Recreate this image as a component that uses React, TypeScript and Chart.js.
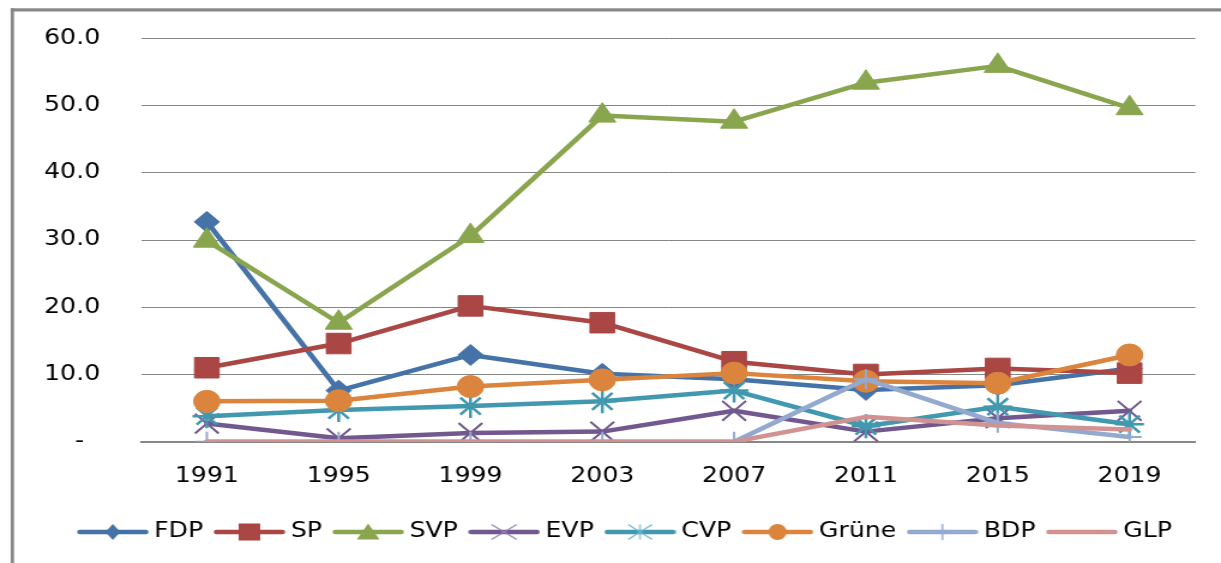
import React, { useEffect, useRef } from 'react';
import { Chart, registerables } from 'chart.js';

Chart.register(...registerables);

// ---- data ----
const years = ['1991', '1995', '1999', '2003', '2007', '2011', '2015', '2019'];
const fdp = [32.7, 7.6, 12.9, 10.1, 9.3, 7.7, 8.4, 10.9];
const sp = [11.0, 14.6, 20.2, 17.7, 11.9, 10.0, 10.9, 10.2];
const svp = [29.9, 17.7, 30.6, 48.5, 47.6, 53.4, 55.9, 49.6];
const evp = [2.7, 0.5, 1.3, 1.5, 4.6, 1.5, 3.5, 4.6];
const cvp = [3.8, 4.7, 5.3, 6.0, 7.6, 2.3, 5.2, 2.6];
const gruene = [6.0, 6.1, 8.2, 9.2, 10.2, 9.0, 8.7, 12.9];
const bdp = [0, 0, 0, 0, 0, 9.3, 2.8, 0.7];
const glp = [0, 0, 0, 0, 0, 3.7, 2.4, 1.8];
const seriesNames = ['FDP', 'SP', 'SVP', 'EVP', 'CVP', 'Grüne', 'BDP', 'GLP'];
const seriesData = [fdp, sp, svp, evp, cvp, gruene, bdp, glp];
const yMin = 0;
const yMax = 60;
const yStep = 10;

// ---- styling ----
const colors = ['#4572A7', '#AA4643', '#89A54E', '#71588F', '#4198AF', '#DB843D', '#93A9CF', '#D19392'];
const pointStyles = ['rectRot', 'rect', 'triangle', 'crossRot', 'star', 'circle', 'cross', 'circle'];
const pointRadii = [10.5, 14.5, 13, 14, 12, 11, 10, 0];
const pointBorders = [1, 1, 1, 2, 2.5, 1, 2, 0];
const legendMarks = ['diamond', 'square', 'triangle', 'x', 'star', 'circle', 'plus', 'none'];

const W = 1018; // internal canvas width (image is horizontally stretched)
const H = 563;
const FONT = 'DejaVu Sans';
const LEGEND_SHIFT = 6.7;

function makeIcon(i: number): HTMLCanvasElement {
  const c = document.createElement('canvas');
  c.width = 60;
  c.height = 20;
  const g = c.getContext('2d') as CanvasRenderingContext2D;
  const col = colors[i];
  g.strokeStyle = col;
  g.lineWidth = 4.5;
  g.lineCap = 'round';
  g.beginPath();
  g.moveTo(2.5, 10);
  g.lineTo(57.5, 10);
  g.stroke();
  g.fillStyle = col;
  const cx = 30;
  const cy = 10;
  const m = legendMarks[i];
  g.beginPath();
  if (m === 'diamond') {
    g.moveTo(cx, cy - 8);
    g.lineTo(cx + 6.25, cy);
    g.lineTo(cx, cy + 8);
    g.lineTo(cx - 6.25, cy);
    g.closePath();
    g.fill();
  } else if (m === 'square') {
    g.fillRect(cx - 9, cy - 8.5, 18, 17);
  } else if (m === 'triangle') {
    g.moveTo(cx, cy - 8.5);
    g.lineTo(cx + 9.5, cy + 7.5);
    g.lineTo(cx - 9.5, cy + 7.5);
    g.closePath();
    g.fill();
  } else if (m === 'x') {
    g.strokeStyle = '#9482b0';
    g.lineWidth = 1.2;
    g.lineCap = 'butt';
    g.moveTo(cx - 10.5, cy - 7.5);
    g.lineTo(cx + 10.5, cy + 7.5);
    g.moveTo(cx + 10.5, cy - 7.5);
    g.lineTo(cx - 10.5, cy + 7.5);
    g.stroke();
  } else if (m === 'star') {
    g.strokeStyle = '#6db4c8';
    g.lineWidth = 1.2;
    g.lineCap = 'butt';
    g.moveTo(cx - 10, cy - 7.5);
    g.lineTo(cx + 10, cy + 7.5);
    g.moveTo(cx + 10, cy - 7.5);
    g.lineTo(cx - 10, cy + 7.5);
    g.moveTo(cx, cy - 7.5);
    g.lineTo(cx, cy + 7.5);
    g.stroke();
  } else if (m === 'circle') {
    g.ellipse(cx, cy, 7.5, 8, 0, 0, Math.PI * 2);
    g.fill();
  } else if (m === 'plus') {
    g.lineWidth = 1.5;
    g.lineCap = 'butt';
    g.moveTo(cx, cy - 8);
    g.lineTo(cx, cy + 8);
    g.stroke();
  }
  return c;
}

const framePlugin = {
  id: 'frame',
  afterLayout(chart: any) {
    if (chart.legend) {
      chart.legend.left += LEGEND_SHIFT;
      chart.legend.right += LEGEND_SHIFT;
    }
  },
  beforeDraw(chart: any) {
    const ctx = chart.ctx;
    ctx.save();
    ctx.fillStyle = '#878787';
    ctx.fillRect(8.9, 8.3, 2.8, H);
    ctx.fillRect(8.9, 8.3, W, 3.2);
    ctx.restore();
  },
};

export default function App() {
  const ref = useRef<HTMLCanvasElement | null>(null);

  useEffect(() => {
    if (!ref.current) return;
    const icons = seriesNames.map((_, i) => makeIcon(i));
    const datasets = seriesNames.map((name, i) => ({
      label: name,
      data: seriesData[i],
      borderColor: colors[i],
      backgroundColor: colors[i],
      borderWidth: 4.5,
      borderJoinStyle: 'round' as const,
      borderCapStyle: 'round' as const,
      tension: 0,
      pointStyle: pointStyles[i] as any,
      pointRadius: pointRadii[i],
      pointHoverRadius: pointRadii[i],
      pointBorderWidth: pointBorders[i],
      pointBackgroundColor: colors[i],
      pointBorderColor: colors[i],
      order: seriesNames.length - 1 - i,
    }));

    const chart = new Chart(ref.current, {
      type: 'line',
      data: { labels: years, datasets },
      plugins: [framePlugin],
      options: {
        responsive: false,
        animation: false,
        devicePixelRatio: 1,
        layout: { padding: { left: 37, right: W - 996.7, top: 38.3, bottom: 10.5 } },
        plugins: {
          tooltip: { enabled: false },
          legend: {
            position: 'bottom',
            labels: {
              usePointStyle: true,
              pointStyleWidth: 48,
              padding: 14.5,
              color: '#000',
              font: { family: FONT, size: 21 },
              generateLabels: () =>
                seriesNames.map((name, i) => ({
                  text: name,
                  fillStyle: colors[i],
                  strokeStyle: colors[i],
                  lineWidth: 0,
                  hidden: false,
                  datasetIndex: i,
                  pointStyle: icons[i] as any,
                  fontColor: '#000',
                })),
            },
          },
        },
        scales: {
          x: {
            offset: true,
            grid: { display: false, drawTicks: false },
            border: { display: true, color: '#868686', width: 2 },
            ticks: {
              color: '#000',
              font: { family: FONT, size: 21 },
              padding: 22,
              maxRotation: 0,
              autoSkip: false,
            },
            afterFit: (s: any) => {
              s.height = 65.3;
            },
          },
          y: {
            min: yMin,
            max: yMax,
            grid: {
              color: '#868686',
              lineWidth: 1,
              drawTicks: true,
              tickLength: 34,
              tickColor: 'rgba(0,0,0,0)',
            },
            border: { display: false },
            ticks: {
              stepSize: yStep,
              padding: 0,
              color: '#000',
              font: { family: FONT, size: 21 },
              callback: (v: any) => (Number(v) === 0 ? '-  ' : Number(v).toFixed(1)),
            },
            afterFit: (s: any) => {
              s.width = 80.5;
            },
          },
        },
      },
    });
    return () => chart.destroy();
  }, []);

  return (
    <canvas
      ref={ref}
      width={W}
      height={H}
      style={{ position: 'absolute', left: 0, top: 0, width: '1221px', height: '563px' }}
    />
  );
}
